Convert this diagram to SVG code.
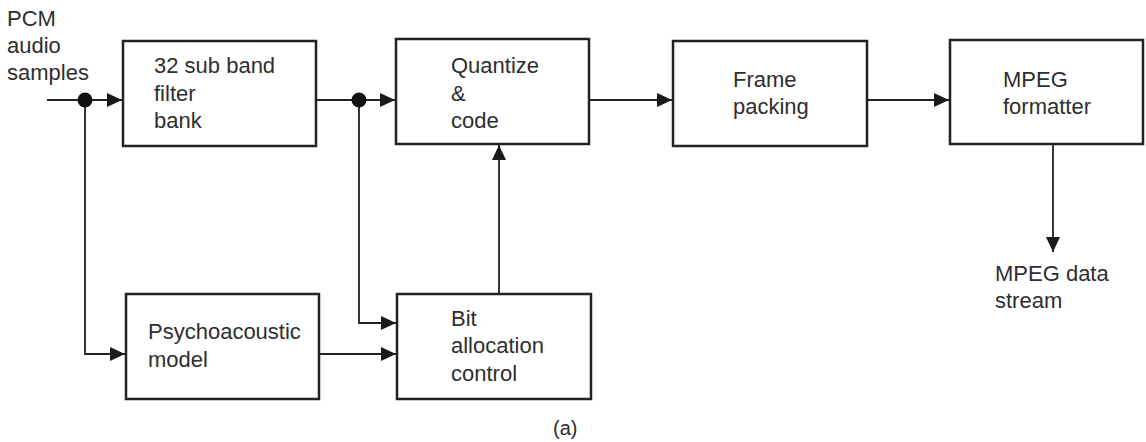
<svg xmlns="http://www.w3.org/2000/svg" width="1146" height="442" viewBox="0 0 1146 442">
<style>
.box{fill:#fff;stroke:#222;stroke-width:2.5}
.ln{fill:none;stroke:#222;stroke-width:1.8}
text{font-family:"Liberation Sans",Arial,sans-serif;font-size:22px;fill:#2e2e2e}
.dot{fill:#111}
</style>
<defs>
<marker id="ah" markerWidth="15" markerHeight="15" viewBox="0 0 15 15" refX="15" refY="7.5" orient="auto" markerUnits="userSpaceOnUse">
<path d="M0,0.5 L15,7.5 L0,14.5 Z" fill="#1a1a1a"/>
</marker>
</defs>
<rect width="1146" height="442" fill="#fff"/>
<g id="connectors">
<path class="ln" d="M47,100 H122" marker-end="url(#ah)"/>
<path class="ln" d="M85,100 V354 H125" marker-end="url(#ah)"/>
<path class="ln" d="M316,100 H395" marker-end="url(#ah)"/>
<path class="ln" d="M359,100 V323 H396" marker-end="url(#ah)"/>
<path class="ln" d="M319,354 H396" marker-end="url(#ah)"/>
<path class="ln" d="M499,294 V145" marker-end="url(#ah)"/>
<path class="ln" d="M589,100 H672" marker-end="url(#ah)"/>
<path class="ln" d="M867,100 H949" marker-end="url(#ah)"/>
<path class="ln" d="M1053,144 V252" marker-end="url(#ah)"/>
<circle class="dot" cx="85" cy="100" r="7.5"/>
<circle class="dot" cx="359" cy="100" r="7.5"/>
</g>
<g id="input-label">
<text x="7" y="26">PCM</text>
<text x="7" y="53">audio</text>
<text x="7" y="80">samples</text>
</g>
<g id="filterbank">
<rect class="box" x="123" y="41" width="193" height="105"/>
<text x="154" y="73">32 sub band</text>
<text x="154" y="101">filter</text>
<text x="154" y="128">bank</text>
</g>
<g id="quantize">
<rect class="box" x="396" y="39" width="193" height="105"/>
<text x="451" y="73">Quantize</text>
<text x="451" y="101">&amp;</text>
<text x="451" y="128">code</text>
</g>
<g id="framepacking">
<rect class="box" x="673" y="41" width="194" height="105"/>
<text x="733" y="87">Frame</text>
<text x="733" y="114">packing</text>
</g>
<g id="formatter">
<rect class="box" x="950" y="40" width="193" height="104"/>
<text x="1003" y="87">MPEG</text>
<text x="1003" y="114">formatter</text>
</g>
<g id="output-label">
<text x="995" y="281">MPEG data</text>
<text x="995" y="308">stream</text>
</g>
<g id="psychoacoustic">
<rect class="box" x="126" y="294" width="193" height="105"/>
<text x="148" y="339">Psychoacoustic</text>
<text x="148" y="367">model</text>
</g>
<g id="bitallocation">
<rect class="box" x="397" y="294" width="194" height="105"/>
<text x="451" y="326">Bit</text>
<text x="451" y="353">allocation</text>
<text x="451" y="381">control</text>
</g>
<g id="caption">
<text x="553" y="435" style="font-size:20px">(a)</text>
</g>
</svg>
